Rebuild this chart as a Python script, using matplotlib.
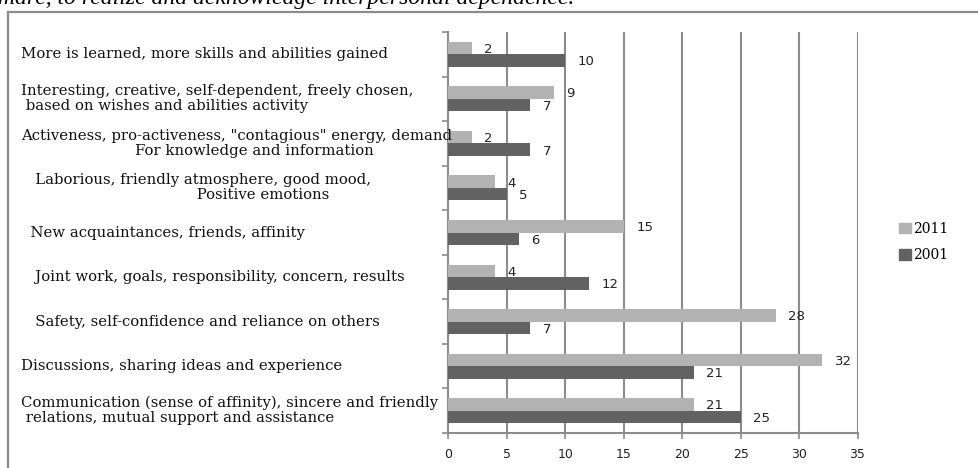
import numpy as np
import matplotlib
matplotlib.use("Agg")
import matplotlib.pyplot as plt
from matplotlib.patches import Patch
from matplotlib.lines import Line2D
from matplotlib.transforms import blended_transform_factory

# categories, bottom to top (barh draws the first one at the bottom)
labels = [
    "Communication (sense of affinity), sincere and friendly\n relations, mutual support and assistance",
    "Discussions, sharing ideas and experience",
    "   Safety, self-confidence and reliance on others",
    "   Joint work, goals, responsibility, concern, results",
    "  New acquaintances, friends, affinity",
    "   Laborious, friendly atmosphere, good mood,\n" + " " * 37 + "Positive emotions",
    'Activeness, pro-activeness, "contagious" energy, demand\n' + " " * 24 + "For knowledge and information",
    "Interesting, creative, self-dependent, freely chosen,\n based on wishes and abilities activity",
    "More is learned, more skills and abilities gained",
]
vals_2011 = [21, 32, 28, 4, 15, 4, 2, 9, 2]
vals_2001 = [25, 21, 7, 12, 6, 5, 7, 7, 10]
xticks = [0, 5, 10, 15, 20, 25, 30, 35]

c2011 = "#b2b2b2"
c2001 = "#626262"
grid_c = "#8c8c8c"

fig = plt.figure(figsize=(9.79, 4.68), dpi=100)
fig.patch.set_facecolor("white")

# cut-off text line from the page above the chart
fig.text(-0.002, 1 - 4 / 468, "mare, to realize and acknowledge interpersonal dependence.",
         family="Liberation Serif", style="italic", fontsize=17, va="baseline", ha="left")

# chart border (only top and left visible)
fig.add_artist(Line2D([8 / 979, 8 / 979], [0, 1 - 12 / 468], color=grid_c, lw=1.6))
fig.add_artist(Line2D([8 / 979, 1], [1 - 12 / 468, 1 - 12 / 468], color=grid_c, lw=1.6))

ax = fig.add_axes([448.5 / 979, 35 / 468, 409 / 979, 401 / 468])
y = np.arange(len(labels))
h = 0.28
ax.barh(y + h / 2, vals_2011, height=h, color=c2011, label="2011", zorder=3)
ax.barh(y - h / 2, vals_2001, height=h, color=c2001, label="2001", zorder=3)

ax.set_xlim(0, 35)
ax.set_ylim(-0.5, len(labels) - 0.5)
ax.set_xticks(xticks)
ax.set_yticks(np.arange(len(labels) + 1) - 0.5)
ax.set_yticklabels([])
for v in xticks[1:]:
    ax.axvline(v, color=grid_c, lw=1.5, zorder=1)

for s in ["top", "right"]:
    ax.spines[s].set_visible(False)
for s in ["left", "bottom"]:
    ax.spines[s].set_color(grid_c)
    ax.spines[s].set_linewidth(1.5)
ax.tick_params(axis="y", length=4, width=1.2, color=grid_c)
ax.tick_params(axis="x", length=4, width=1.2, color=grid_c, pad=7, labelsize=9, labelcolor="#222222")

# value labels
for i in range(len(labels)):
    ax.annotate(str(vals_2011[i]), (vals_2011[i], y[i] + h / 2), xytext=(9, -1),
                textcoords="offset points", va="center", ha="left", fontsize=9.5, color="#222222")
    ax.annotate(str(vals_2001[i]), (vals_2001[i], y[i] - h / 2), xytext=(9, -1),
                textcoords="offset points", va="center", ha="left", fontsize=9.5, color="#222222")

# category labels
lab_tr = blended_transform_factory(fig.transFigure, ax.transData)
for i, lab in enumerate(labels):
    ax.text(21 / 979, i, lab, transform=lab_tr,
            family="DejaVu Serif", fontsize=10.7, ha="left", va="center", linespacing=1.1, color="#111111")

handles = [Patch(color=c2011, label="2011"), Patch(color=c2001, label="2001")]
fig.legend(handles=handles, loc="center left", bbox_to_anchor=(887 / 979, 1 - 242 / 468),
           frameon=False, handlelength=0.8, handleheight=0.8, handletextpad=0.15,
           labelspacing=0.9, prop={"family": "DejaVu Serif", "size": 10})

fig.savefig("out.png", dpi=100)
